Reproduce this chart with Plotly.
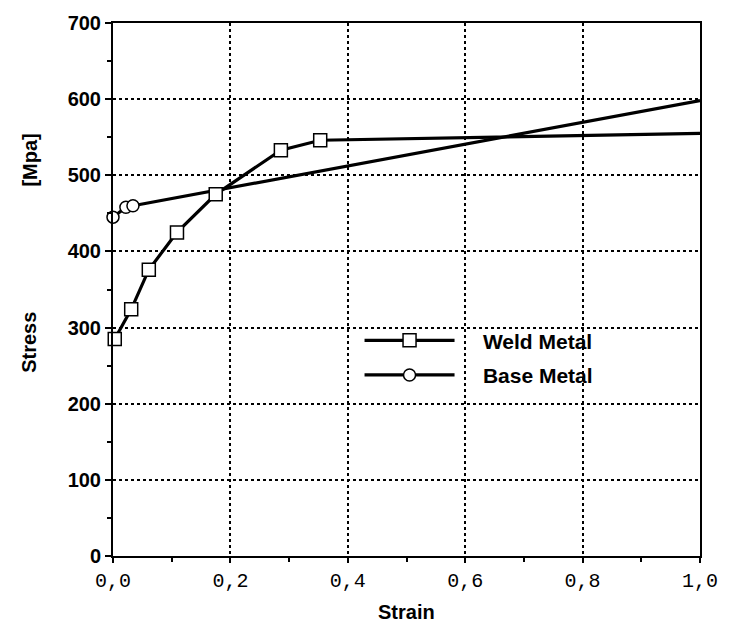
import plotly.graph_objects as go

# Data
weld_strain = [0.003, 0.031, 0.061, 0.109, 0.175, 0.286, 0.353, 1.0]
weld_stress = [285, 324, 376, 425, 475, 533, 546, 555]
weld_marker_mask = [True, True, True, True, True, True, True, False]

base_strain = [0.0, 0.022, 0.034, 1.0]
base_stress = [445, 458, 460, 598]
base_marker_mask = [True, True, True, False]

x_tickvals = [0.0, 0.2, 0.4, 0.6, 0.8, 1.0]
x_ticktext = ["0,0", "0,2", "0,4", "0,6", "0,8", "1,0"]
y_tickvals = [0, 100, 200, 300, 400, 500, 600, 700]

fig = go.Figure()

# curves
fig.add_trace(go.Scatter(
    x=weld_strain, y=weld_stress, mode="lines", name="Weld Metal",
    line=dict(color="black", width=3.2), showlegend=False, cliponaxis=False))
fig.add_trace(go.Scatter(
    x=base_strain, y=base_stress, mode="lines", name="Base Metal",
    line=dict(color="black", width=3.2), showlegend=False, cliponaxis=False))

# markers
fig.add_trace(go.Scatter(
    x=[x for x, m in zip(weld_strain, weld_marker_mask) if m],
    y=[y for y, m in zip(weld_stress, weld_marker_mask) if m],
    mode="markers", showlegend=False, cliponaxis=False,
    marker=dict(symbol="square", size=13, color="white", line=dict(color="black", width=1.5))))
fig.add_trace(go.Scatter(
    x=[x for x, m in zip(base_strain, base_marker_mask) if m],
    y=[y for y, m in zip(base_stress, base_marker_mask) if m],
    mode="markers", showlegend=False, cliponaxis=False,
    marker=dict(symbol="circle", size=12, color="white", line=dict(color="black", width=1.5))))

# legend entries (line + marker)
fig.add_trace(go.Scatter(
    x=[None], y=[None], mode="lines+markers", name="\u00a0\u00a0\u00a0\u00a0Weld Metal", legend="legend",
    line=dict(color="black", width=3.2),
    marker=dict(symbol="square", size=13, color="white", line=dict(color="black", width=1.5))))
fig.add_trace(go.Scatter(
    x=[None], y=[None], mode="lines+markers", name="\u00a0\u00a0\u00a0\u00a0Base Metal", legend="legend2",
    line=dict(color="black", width=3.2),
    marker=dict(symbol="circle", size=12, color="white", line=dict(color="black", width=1.5))))

legend_font = dict(family="Liberation Sans", size=21, color="black", weight="bold")
fig.update_layout(
    width=732, height=624,
    margin=dict(l=113, r=32, t=15, b=68),
    paper_bgcolor="white", plot_bgcolor="white",
    legend=dict(x=0.42, y=0.404, xanchor="left", yanchor="middle",
                font=legend_font, bgcolor="rgba(0,0,0,0)", itemwidth=90),
    legend2=dict(x=0.42, y=0.339, xanchor="left", yanchor="middle",
                 font=legend_font, bgcolor="rgba(0,0,0,0)", itemwidth=90),
    xaxis=dict(
        range=[0, 1], tickvals=x_tickvals, ticktext=x_ticktext,
        showline=True, linecolor="black", linewidth=2, mirror=True,
        ticks="outside", ticklen=5, tickcolor="black", tickwidth=1.5,
        minor=dict(dtick=0.1, ticks="outside", ticklen=4, tickcolor="black", showgrid=False),
        showgrid=True, gridcolor="black", griddash="dot", gridwidth=1.5,
        tickfont=dict(family="Liberation Mono", size=20, color="black"),
        zeroline=False),
    yaxis=dict(
        range=[0, 700], tickvals=y_tickvals,
        showline=True, linecolor="black", linewidth=2, mirror=True,
        ticks="outside", ticklen=6, tickcolor="black", tickwidth=1.5,
        minor=dict(dtick=50, ticks="outside", ticklen=4, tickcolor="black", showgrid=False),
        showgrid=True, gridcolor="black", griddash="dot", gridwidth=1.5,
        tickfont=dict(family="Liberation Sans", size=20, color="black", weight="bold"),
        zeroline=False),
    annotations=[
        dict(text="Strain", xref="paper", yref="paper", x=0.5, y=-0.105,
             xanchor="center", yanchor="middle", showarrow=False,
             font=dict(family="Liberation Sans", size=20, color="black", weight="bold")),
        dict(text="Stress", xref="paper", yref="paper", x=-0.143, y=0.4,
             xanchor="center", yanchor="middle", showarrow=False, textangle=-90,
             font=dict(family="Liberation Sans", size=20, color="black", weight="bold")),
        dict(text="[Mpa]", xref="paper", yref="paper", x=-0.143, y=0.742,
             xanchor="center", yanchor="middle", showarrow=False, textangle=-90,
             font=dict(family="Liberation Sans", size=20, color="black", weight="bold")),
    ],
)

fig.write_html("out.html")
